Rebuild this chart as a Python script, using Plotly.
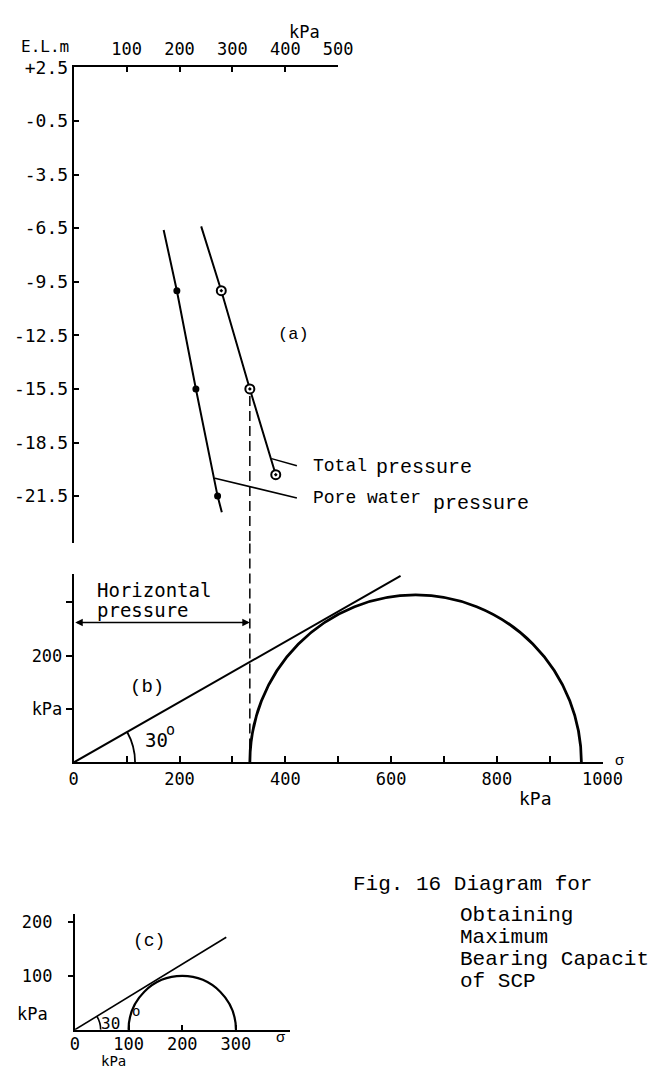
import math
import plotly.graph_objects as go

W, H = 649, 1069

# ---------------- data ----------------
# Panel (a): pressure (kPa) against elevation E.L. (m)
pore_E = [-10.0, -15.5, -21.5]
pore_P = [195, 231, 272]
total_E = [-10.0, -15.5, -20.3]
total_P = [279, 333, 382]
pore_line_E = [-6.6, -10.0, -15.5, -21.5, -22.4]
pore_line_P = [170, 195, 231, 272, 280]
total_line_E = [-6.4, -10.0, -15.5, -20.3]
total_line_P = [241, 279, 333, 382]
elev_ticks = [2.5, -0.5, -3.5, -6.5, -9.5, -12.5, -15.5, -18.5, -21.5]
elev_labels = ["+2.5", "-0.5", "-3.5", "-6.5", "-9.5", "-12.5", "-15.5", "-18.5", "-21.5"]
press_ticks_a = [100, 200, 300, 400, 500]
total_leader_P = [374, 422]
total_leader_E = [-19.4, -19.8]
pore_leader_P = [267, 422]
pore_leader_E = [-20.5, -21.6]

# Panel (b): Mohr circle
sigma3_b = 333
sigma1_b = 960
env_b_sigma = [0, 618]
env_b_tau = [0, 349]
horiz_press_tau = 262
angle_r_b = 116
sigma_ticks_b = [0, 100, 200, 300, 400, 500, 600, 700, 800, 900, 1000]
sigma_labels_b = ["0", "", "200", "", "400", "", "600", "", "800", "", "1000"]
tau_ticks_b = [100, 200, 300]
tau_labels_b = ["kPa", "200", ""]

# Panel (c): Mohr circle
sigma3_c = 100
sigma1_c = 300
env_c_sigma = [0, 282]
env_c_tau = [0, 172]
angle_r_c = 48
sigma_ticks_c = [0, 100, 200, 300, 400]
sigma_labels_c = ["0", "100", "200", "300", ""]
tau_ticks_c = [100, 200]
tau_labels_c = ["100", "200"]

caption = ["Fig. 16 Diagram for", "Obtaining", "Maximum", "Bearing Capacity", "of SCP"]

# ---------------- layout helpers ----------------
def PX(x):
    return x / W

def PY(y):
    return 1 - y / H

MONO = "DejaVu Sans Mono"
TYPE = "Liberation Mono"
BLK = "black"

fig = go.Figure()

# ----- panel (a) -----
fig.add_trace(go.Scatter(x=pore_line_P, y=pore_line_E, mode="lines",
                         line=dict(color=BLK, width=2), xaxis="x", yaxis="y",
                         showlegend=False, hoverinfo="skip"))
fig.add_trace(go.Scatter(x=total_line_P, y=total_line_E, mode="lines",
                         line=dict(color=BLK, width=2), xaxis="x", yaxis="y",
                         showlegend=False, hoverinfo="skip"))
fig.add_trace(go.Scatter(x=pore_P, y=pore_E, mode="markers",
                         marker=dict(symbol="circle", size=7, color=BLK),
                         xaxis="x", yaxis="y", showlegend=False))
fig.add_trace(go.Scatter(x=total_P, y=total_E, mode="markers",
                         marker=dict(symbol="circle-dot", size=9, color="white",
                                     line=dict(color=BLK, width=2)),
                         xaxis="x", yaxis="y", showlegend=False))

# ----- panel (b) -----
fig.add_trace(go.Scatter(x=env_b_sigma, y=env_b_tau, mode="lines",
                         line=dict(color=BLK, width=2), xaxis="x2", yaxis="y2",
                         showlegend=False, hoverinfo="skip"))
# ----- panel (c) -----
fig.add_trace(go.Scatter(x=env_c_sigma, y=env_c_tau, mode="lines",
                         line=dict(color=BLK, width=1.6), xaxis="x3", yaxis="y3",
                         showlegend=False, hoverinfo="skip"))

shapes = []
# leader lines (a)
shapes.append(dict(type="line", xref="x", yref="y", x0=total_leader_P[0], y0=total_leader_E[0],
                   x1=total_leader_P[1], y1=total_leader_E[1], line=dict(color=BLK, width=1.5)))
shapes.append(dict(type="line", xref="x", yref="y", x0=pore_leader_P[0], y0=pore_leader_E[0],
                   x1=pore_leader_P[1], y1=pore_leader_E[1], line=dict(color=BLK, width=1.5)))

A_x = [PX(71.5), PX(346.5)]
A_y = [PY(538), PY(57)]
B_x = [PX(71.5), PX(621.5)]
B_y = [PY(759.3), PY(569.2)]
C_x = [PX(72.7), PX(296)]
C_y = [PY(1029.3), PY(912)]
A_range_y = [-24.15, 2.5]

# dashed vertical line from the total-pressure point down to the sigma axis of (b)
dash = dict(color=BLK, width=1.5, dash="10px,5px")
shapes.append(dict(type="line", xref="x", yref="y", x0=sigma3_b, x1=sigma3_b,
                   y0=total_E[1] - 0.4, y1=A_range_y[0], line=dash))
shapes.append(dict(type="line", xref="x", yref="paper", x0=sigma3_b, x1=sigma3_b,
                   y0=A_y[0], y1=B_y[0], line=dash))

# Mohr circles
Rb = (sigma1_b - sigma3_b) / 2
shapes.append(dict(type="circle", xref="x2", yref="y2", x0=sigma3_b, x1=sigma1_b,
                   y0=-Rb, y1=Rb, line=dict(color=BLK, width=2.8)))
Rc = (sigma1_c - sigma3_c) / 2
shapes.append(dict(type="circle", xref="x3", yref="y3", x0=sigma3_c, x1=sigma1_c,
                   y0=-Rc, y1=Rc, line=dict(color=BLK, width=2.2)))

# angle arcs (quadratic approximation between axis and envelope)
def arc_path(r, sig_end, tau_end):
    th = math.atan2(tau_end, sig_end)
    c = r * math.tan(th / 2)
    return f"M {r},0 Q {r},{c} {r*math.cos(th)},{r*math.sin(th)}"

shapes.append(dict(type="path", xref="x2", yref="y2",
                   path=arc_path(angle_r_b, env_b_sigma[1], env_b_tau[1]),
                   line=dict(color=BLK, width=1.8)))
shapes.append(dict(type="path", xref="x3", yref="y3",
                   path=arc_path(angle_r_c, env_c_sigma[1], env_c_tau[1]),
                   line=dict(color=BLK, width=1.6)))

ann = []
def txt(text, x, y, size, family=MONO, xanchor="center", yanchor="middle"):
    ann.append(dict(text=text, x=PX(x), y=PY(y), xref="paper", yref="paper",
                    showarrow=False, xanchor=xanchor, yanchor=yanchor,
                    font=dict(size=size, family=family, color=BLK)))

# horizontal pressure double arrow
ann.append(dict(text="", x=sigma3_b, y=horiz_press_tau, ax=0, ay=horiz_press_tau,
                xref="x2", yref="y2", axref="x2", ayref="y2", showarrow=True,
                arrowhead=2, arrowside="end+start", arrowsize=1, arrowwidth=1.5,
                arrowcolor=BLK, standoff=0, startstandoff=0))

txt("kPa", 312, 21.7, 17)
txt("E.L.m", 41.7, 36, 16)
txt("(a)", 300, 326.7, 17, TYPE)
txt("Total", 318, 460, 18, TYPE, xanchor="left")
txt("pressure", 384, 461, 20, TYPE, xanchor="left")
txt("Pore water", 318.3, 491.7, 18, TYPE, xanchor="left")
txt("pressure", 443.3, 497.5, 20, TYPE, xanchor="left")

txt("Horizontal", 94, 585, 19, xanchor="left")
txt("pressure", 94, 605, 19, xanchor="left")
txt("(b)", 148, 683.3, 19, TYPE)
txt("30", 158, 737, 19)
txt("o", 171.7, 726.7, 15)
txt("σ", 639, 758, 15, TYPE)
txt("kPa", 551.7, 796, 18)

txt("(c)", 150, 939.3, 18, TYPE)
txt("30", 110, 1023.3, 16)
txt("o", 136, 1010, 14)
txt("kPa", 29, 1013, 17)
txt("kPa", 113, 1061, 14)
txt("σ", 286.7, 1038, 15, TYPE)

cap_y = [882.2, 913.7, 936, 958.3, 980.3]
cap_x = [360, 470.7, 470.7, 470.7, 470.7]
for t, cx, cy in zip(caption, cap_x, cap_y):
    txt(t, cx, cy, 21, TYPE, xanchor="left")

axis_common = dict(showgrid=False, zeroline=False, showline=True, linecolor=BLK,
                   linewidth=2, tickcolor=BLK, tickwidth=1.5,
                   tickfont=dict(size=17, family=MONO, color=BLK), fixedrange=True)

fig.update_layout(
    width=W, height=H, margin=dict(l=0, r=0, t=0, b=0),
    paper_bgcolor="white", plot_bgcolor="white",
    font=dict(family=MONO, color=BLK),
    showlegend=False, shapes=shapes, annotations=ann,
    xaxis=dict(domain=A_x, range=[0, 500], side="top", anchor="y",
               tickmode="array", tickvals=press_ticks_a, ticks="inside", ticklen=5,
               ticklabelstandoff=4, **axis_common),
    yaxis=dict(domain=A_y, range=A_range_y, anchor="x",
               tickmode="array", tickvals=elev_ticks, ticktext=elev_labels,
               ticks="inside", ticklen=5,
               **{**axis_common, "tickfont": dict(size=18, family=MONO, color=BLK)}),
    xaxis2=dict(domain=B_x, range=[0, 1000], anchor="y2",
                tickmode="array", tickvals=sigma_ticks_b, ticktext=sigma_labels_b,
                ticks="inside", ticklen=6, **axis_common),
    yaxis2=dict(domain=B_y, range=[0, 352], anchor="x2",
                tickmode="array", tickvals=tau_ticks_b, ticktext=tau_labels_b,
                ticks="outside", ticklen=6, **axis_common),
    xaxis3=dict(domain=C_x, range=[0, 400], anchor="y3",
                tickmode="array", tickvals=sigma_ticks_c, ticktext=sigma_labels_c,
                ticks="inside", ticklen=5, ticklabelstandoff=-2, **axis_common),
    yaxis3=dict(domain=C_y, range=[0, 216], anchor="x3",
                tickmode="array", tickvals=tau_ticks_c, ticktext=tau_labels_c,
                ticks="outside", ticklen=5, ticklabelstandoff=12, **axis_common),
)

fig.write_html("out.html", config={"displayModeBar": False},
               post_script="document.body.style.margin='0';document.body.style.overflow='hidden';")
